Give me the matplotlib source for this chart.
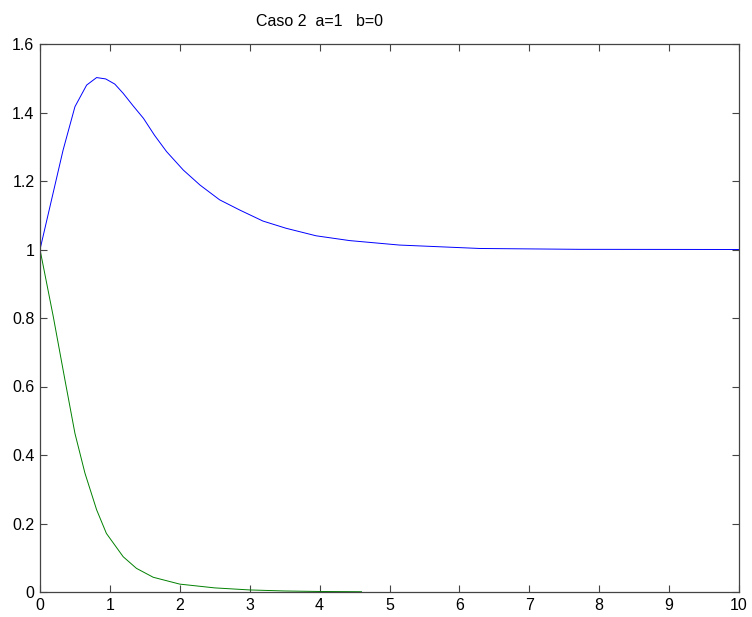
import matplotlib
matplotlib.use('Agg')
import matplotlib.pyplot as plt

plt.rcParams['font.family'] = ['Liberation Sans', 'DejaVu Sans']

# curva azul
t_blue = [0, 0.33, 0.5, 0.667, 0.81, 0.94, 1.07, 1.19, 1.33, 1.48, 1.64, 1.81, 2.05, 2.29,
          2.57, 2.86, 3.19, 3.52, 3.95, 4.43, 5.14, 6.29, 7.71, 10]
v_blue = [1.0, 1.29, 1.417, 1.48, 1.502, 1.498, 1.483, 1.456, 1.42, 1.383, 1.333, 1.286, 1.232, 1.188,
          1.145, 1.115, 1.083, 1.062, 1.040, 1.026, 1.013, 1.003, 1.0005, 1.0]

# curva verde
t_green = [0, 0.19, 0.357, 0.5, 0.643, 0.81, 0.95, 1.19, 1.38, 1.62, 2.0, 2.5, 3.0, 3.5, 4.0, 4.6]
v_green = [1.0, 0.804, 0.619, 0.463, 0.347, 0.24, 0.171, 0.103, 0.069, 0.043, 0.023, 0.012,
           0.006, 0.003, 0.0015, 0.0008]

xticks = [0, 1, 2, 3, 4, 5, 6, 7, 8, 9, 10]
yticks = [0, 0.2, 0.4, 0.6, 0.8, 1, 1.2, 1.4, 1.6]
ylabels = ['0', '0.2', '0.4', '0.6', '0.8', '1', '1.2', '1.4', '1.6']


def main():
    fig = plt.figure(figsize=(7.52, 6.17), dpi=100)
    ax = fig.add_axes([40 / 752, 25 / 617, 699 / 752, 548 / 617])

    ax.plot(t_blue, v_blue, color=(0, 0, 1), lw=0.7)
    ax.plot(t_green, v_green, color=(0, 0.5, 0), lw=0.7)

    ax.set_xlim(0, 10)
    ax.set_ylim(0, 1.6)
    ax.set_xticks(xticks)
    ax.set_xticklabels([str(x) for x in xticks])
    ax.set_yticks(yticks)
    ax.set_yticklabels(ylabels)
    ax.tick_params(direction='in', length=5, width=0.8, color='#444444',
                   top=True, right=True, labelsize=11.5, pad=4)
    for s in ax.spines.values():
        s.set_color('#444444')
        s.set_linewidth(0.9)

    fig.text(320 / 752, 1 - 21.5 / 617, 'Caso 2  a=1   b=0', ha='center', va='center',
             fontsize=11.5)

    fig.savefig('out.png', dpi=100)


if __name__ == '__main__':
    main()
